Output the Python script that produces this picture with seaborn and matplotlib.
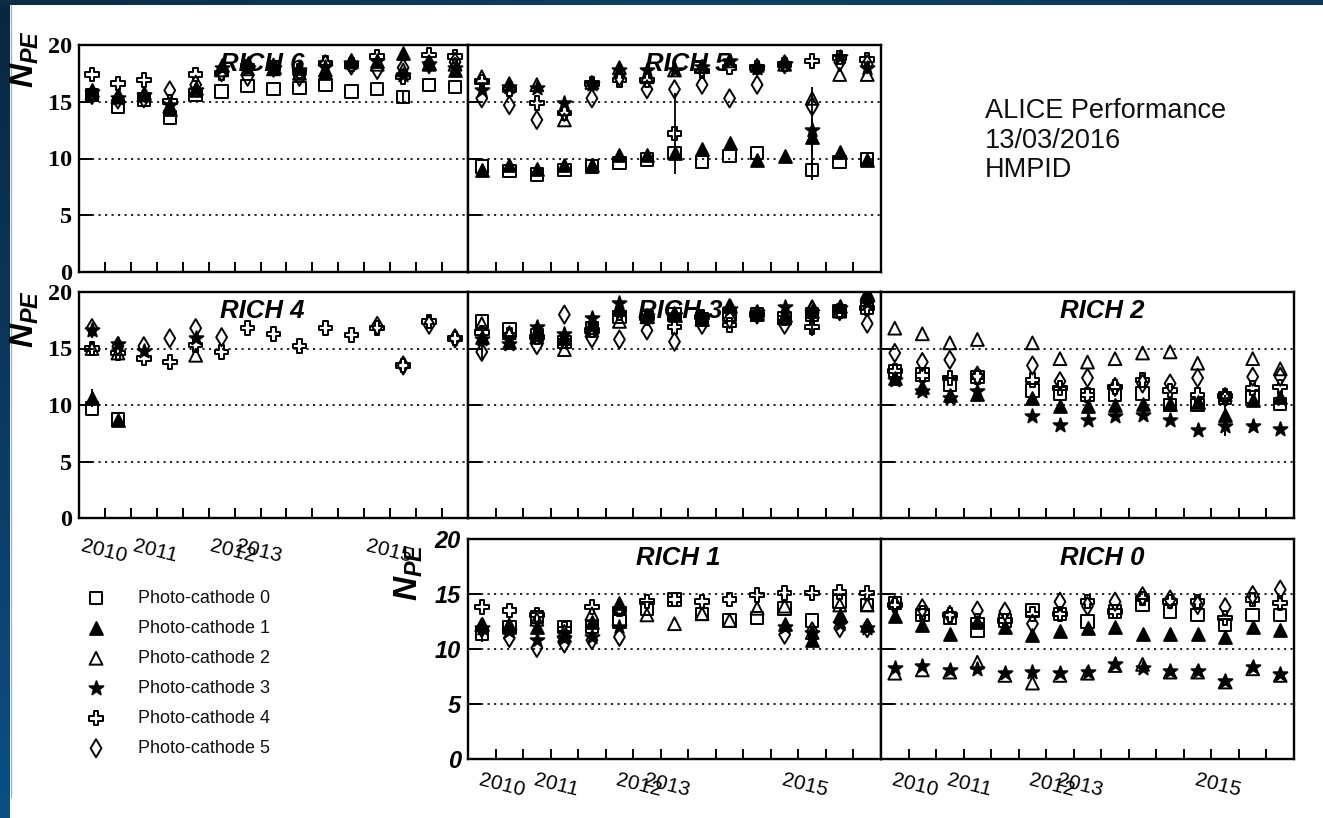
import numpy as np
import matplotlib
matplotlib.use("Agg")
import matplotlib.pyplot as plt
import seaborn as sns

nan = np.nan

# ---------------- data ----------------
bins = np.arange(15)
year_labels = ["2010", "2011", "2012", "2013", "2015"]
year_bins = [0, 2, 5, 6, 11]
series_names = [f"Photo-cathode {i}" for i in range(6)]

rich6 = [
    [15.6, 14.6, 15.2, 13.6, 15.6, 15.9, 16.4, 16.1, 16.2, 16.5, 15.9, 16.1, 15.4, 16.5, 16.3],
    [16.0, 15.6, 15.8, 14.4, 16.2, 18.2, 18.4, 18.1, 18.0, 17.5, 18.7, 18.6, 19.3, 18.4, 17.8],
    [15.8, 15.4, 15.6, 14.6, 16.0, 17.8, 17.9, 17.9, 17.5, 17.8, 18.5, 18.3, 17.8, 18.3, 18.3],
    [15.9, 15.3, 15.6, 14.7, 16.0, 18.0, 18.0, 18.0, 17.8, 18.1, 18.4, 18.6, 17.4, 18.3, 18.0],
    [17.4, 16.6, 16.9, 15.0, 17.4, 17.5, 18.1, 18.0, 17.7, 18.4, 18.3, 19.0, 17.2, 19.1, 19.0],
    [15.6, 15.2, 15.3, 16.0, 16.5, 17.6, 17.2, 18.0, 17.2, 18.3, 18.2, 17.8, 18.0, 18.3, 18.5],
]
rich5 = [
    [9.3, 8.9, 8.6, 9.0, 9.3, 9.6, 9.9, 10.5, 9.7, 10.2, 10.5, nan, 9.0, 9.7, 9.9],
    [9.0, 9.4, 9.1, 9.4, 9.4, 10.3, 10.3, 10.5, 10.8, 11.4, 9.9, 10.2, 11.9, 10.6, 9.9],
    [17.2, 16.6, 16.5, 13.4, 16.7, 18.0, 17.2, 17.8, 18.1, 18.6, 18.2, 18.3, 15.3, 17.4, 17.4],
    [16.0, 16.3, 16.2, 14.9, 16.6, 17.8, 17.8, 17.8, 18.1, 18.6, 18.0, 18.3, 12.5, 18.9, 18.0],
    [16.8, 16.1, 14.9, 14.0, 16.6, 16.9, 16.9, 12.2, 17.7, 18.0, 18.0, 18.3, 18.6, 18.9, 18.7],
    [15.3, 14.7, 13.4, 14.1, 15.3, 17.2, 16.1, 16.1, 16.5, 15.3, 16.5, 18.3, 14.6, 18.5, 18.3],
]
rich4 = [
    [9.7, 8.7, nan, nan, nan, nan, nan, nan, nan, nan, nan, nan, nan, nan, nan],
    [10.6, 8.7, nan, nan, nan, nan, nan, nan, nan, nan, nan, nan, nan, nan, nan],
    [15.0, 14.6, nan, nan, 14.4, nan, nan, nan, nan, nan, nan, nan, nan, nan, nan],
    [16.6, 15.4, 14.8, nan, 15.9, nan, nan, nan, nan, nan, nan, nan, nan, nan, nan],
    [15.0, 14.6, 14.1, 13.8, 15.3, 14.7, 16.8, 16.3, 15.2, 16.8, 16.2, 16.8, 13.5, 17.4, 15.9],
    [16.8, 15.2, 15.2, 15.9, 16.8, 16.0, nan, nan, nan, nan, nan, 17.0, 13.5, 17.1, 15.9],
]
rich3 = [
    [17.4, 16.7, 16.2, 15.6, 16.8, 17.8, 17.8, 18.0, 17.6, 18.0, 18.0, 17.7, 18.0, 18.3, 18.6],
    [16.0, 15.6, 16.5, 15.9, 17.2, 18.6, 17.9, 18.0, 17.6, 18.8, 18.1, 18.0, 18.3, 18.8, 19.9],
    [17.2, 16.4, 16.0, 14.9, 16.6, 17.4, 17.8, 18.1, 17.6, 18.8, 18.0, 17.7, 18.7, 18.3, 19.9],
    [15.8, 15.4, 16.9, 16.3, 17.7, 19.0, 17.9, 18.0, 17.8, 18.5, 18.2, 18.7, 18.2, 18.6, 19.0],
    [16.4, 16.2, 16.0, 15.6, 16.6, 18.1, 17.7, 16.9, 17.8, 17.1, 18.0, 17.7, 16.9, 18.3, 18.6],
    [14.7, 16.0, 15.3, 18.0, 15.9, 15.8, 16.6, 15.6, 17.1, 17.6, 18.0, 17.1, 18.4, 18.3, 17.2],
]
rich2 = [
    [13.0, 12.7, 11.8, 12.5, nan, 11.3, 11.0, 10.9, 10.9, 11.0, 10.0, 10.0, 10.6, 10.7, 10.1],
    [12.4, 11.6, 10.9, 11.0, nan, 10.6, 9.9, 9.9, 10.0, 10.1, 10.1, 10.3, 9.1, 10.4, 10.7],
    [16.8, 16.3, 15.5, 15.8, nan, 15.5, 14.1, 13.8, 14.1, 14.6, 14.7, 13.7, 10.9, 14.1, 13.2],
    [12.2, 11.2, 10.6, 11.2, nan, 9.0, 8.2, 8.7, 9.0, 9.1, 8.7, 7.8, 8.1, 8.1, 7.9],
    [13.0, 12.6, 12.4, 12.5, nan, 12.2, 11.5, 10.9, 11.6, 12.2, 11.3, 10.9, 10.8, 11.5, 11.6],
    [14.6, 13.8, 14.0, 12.6, nan, 13.5, 12.1, 12.4, 11.6, 11.9, 11.9, 12.4, 10.7, 12.5, 12.5],
]
rich1 = [
    [11.4, 12.0, 12.9, 12.0, 12.0, 12.5, 13.7, 14.5, 13.2, 12.6, 12.8, 13.7, 12.6, 14.3, 14.0],
    [12.3, 12.0, 12.0, 11.3, 12.5, 14.2, nan, nan, nan, nan, nan, 12.3, 10.8, 13.1, 12.2],
    [12.2, 12.2, 12.7, 11.6, 13.2, 13.8, 13.1, 12.3, 13.2, 12.6, 13.7, 13.9, 11.5, 14.0, 14.0],
    [11.9, 11.6, 10.8, 11.0, 11.1, 12.0, nan, nan, nan, nan, nan, 12.0, 11.5, 12.3, 11.9],
    [13.8, 13.5, 13.1, 11.8, 13.8, 13.6, 14.3, 14.5, 14.3, 14.5, 14.9, 15.1, 15.1, 15.2, 15.1],
    [11.9, 11.0, 10.1, 10.5, 10.8, 11.1, nan, nan, nan, nan, nan, 11.3, 11.6, 11.9, 11.9],
]
rich0 = [
    [14.2, 13.1, 12.8, 11.7, 12.6, 13.5, 13.2, 12.5, 13.4, 14.0, 13.4, 13.1, 12.2, 13.1, 13.1],
    [13.0, 12.2, 11.4, 12.5, 12.0, 11.3, 11.6, 11.9, 12.0, 11.4, 11.4, 11.4, 11.1, 12.0, 11.7],
    [7.8, 8.1, 7.9, 8.8, 7.6, 6.9, 7.6, 7.8, 8.5, 8.6, 7.9, 7.9, 7.0, 8.2, 7.6],
    [8.3, 8.5, 8.1, 8.2, 7.8, 7.9, 7.8, 7.9, 8.6, 8.3, 8.0, 8.0, 7.1, 8.4, 7.7],
    [14.0, 13.3, 13.1, 12.6, 12.6, 13.2, 13.2, 14.3, 13.4, 14.6, 14.3, 14.3, 12.8, 14.5, 14.2],
    [14.0, 13.7, 13.1, 13.5, 13.4, 12.3, 14.3, 13.9, 14.3, 14.8, 14.5, 14.0, 13.8, 14.9, 15.4],
]
# (panel, photo-cathode, bin, error)
errors = [
    ("RICH 6", 0, 12, 0.5), ("RICH 5", 4, 7, 3.6), ("RICH 5", 0, 12, 0.9),
    ("RICH 5", 1, 12, 1.6), ("RICH 5", 3, 12, 3.8), ("RICH 4", 1, 0, 0.8),
    ("RICH 3", 5, 0, 0.7), ("RICH 3", 4, 12, 0.8), ("RICH 2", 1, 12, 1.8),
    ("RICH 2", 3, 12, 0.8), ("RICH 1", 0, 0, 0.8), ("RICH 0", 1, 0, 0.6),
]

# ---------------- style ----------------
sns.set_theme(style="white")
plt.rcParams["font.family"] = ["Liberation Sans", "DejaVu Sans"]
plt.rcParams["text.color"] = "black"
plt.rcParams["xtick.color"] = "black"
plt.rcParams["ytick.color"] = "black"
plt.rcParams["xtick.labelcolor"] = "black"
plt.rcParams["ytick.labelcolor"] = "black"
plt.rcParams["legend.labelcolor"] = "black"
plt.rcParams["mathtext.fontset"] = "custom"
plt.rcParams["mathtext.it"] = "Liberation Sans:italic:bold"
plt.rcParams["mathtext.rm"] = "Liberation Sans:bold"
plt.rcParams["mathtext.bf"] = "Liberation Sans:bold"

W, H = 1323, 818
fig = plt.figure(figsize=(W / 100, H / 100), dpi=100)
fig.patch.set_facecolor("white")

# slide background strips
bg = fig.add_axes([0, 0, 10 / W, 1])
bg.imshow(np.linspace(0, 1, 100).reshape(-1, 1), aspect="auto",
          cmap=matplotlib.colors.LinearSegmentedColormap.from_list("b", ["#0b2740", "#0a3a60", "#0c4f84"]),
          origin="upper")
bg.axis("off")
top = fig.add_axes([0, 1 - 5 / H, 1, 5 / H])
top.imshow(np.linspace(0, 1, 100).reshape(1, -1), aspect="auto",
           cmap=matplotlib.colors.LinearSegmentedColormap.from_list("t", ["#0b2c45", "#0d4163", "#0b3a58"]))
top.axis("off")
fig.add_artist(matplotlib.lines.Line2D([10.5 / W, 10.5 / W], [1 - 797 / H, 1 - 5 / H], color="#a8b0b8", lw=1))


def px_rect(l, t, r, b):
    return [l / W, 1 - b / H, (r - l) / W, (b - t) / H]


panels = [
    # name, data, rect, left labels style, years?, title x, year offset, year pad
    ("RICH 6", rich6, px_rect(79, 45, 468, 272), "serif", False, 0.47, 0, 0),
    ("RICH 5", rich5, px_rect(468, 45, 881, 272), None, False, 0.53, 0, 0),
    ("RICH 4", rich4, px_rect(79, 292, 468, 518), "serif", True, 0.47, 0.45, 24),
    ("RICH 3", rich3, px_rect(468, 292, 881, 518), None, False, 0.515, 0, 0),
    ("RICH 2", rich2, px_rect(881, 292, 1294, 518), None, False, 0.535, 0, 0),
    ("RICH 1", rich1, px_rect(468, 539, 881, 759), "sans", True, 0.51, 0.72, 19),
    ("RICH 0", rich0, px_rect(881, 539, 1294, 759), None, True, 0.535, 0.72, 19),
]

markers = ["s", "^", "^", "*", "P", "d"]
faces = ["none", "black", "none", "black", "none", "none"]
sizes = [80, 85, 85, 110, 95, 85]

legend_handles = []
for name, data, rect, lab, years, tx, yoff, ypad in panels:
    ax = fig.add_axes(rect)
    ax.set_facecolor("white")
    for v in (5, 10, 15):
        ax.axhline(v, color="black", lw=1.2, ls=(0, (1.3, 2.6)), zorder=0.4)
    ax.text(tx, 0.915, name, transform=ax.transAxes, ha="center", va="center",
            fontsize=18.5, fontweight="bold", fontstyle="italic", zorder=0.5, color="black")
    for (pn, s, b, e) in errors:
        if pn == name:
            ax.vlines(bins[b], data[s][b] - e, data[s][b] + e, color="black", lw=1.3, zorder=2)
    for i in range(6):
        sns.scatterplot(x=bins, y=np.array(data[i], dtype=float), marker=markers[i], s=sizes[i],
                        color=faces[i], edgecolor="black", linewidth=1.4, ax=ax,
                        zorder=3, legend=False, label=series_names[i])
    if name == "RICH 6":
        legend_handles = list(ax.collections[-6:])
    ax.set_xlim(-0.5, 14.5)
    ax.set_ylim(0, 20)
    ax.set_xlabel("")
    ax.set_ylabel("")
    for sp in ax.spines.values():
        sp.set_linewidth(1.7)
        sp.set_color("black")
    ax.set_xticks(np.arange(0.5, 14, 1), minor=True)
    ax.tick_params(axis="x", which="minor", direction="in", length=7, width=1.4,
                   bottom=True, top=False, color="black")
    if years:
        ax.set_xticks(np.array(year_bins) + yoff)
        ax.set_xticklabels(year_labels, rotation=-14, rotation_mode="anchor",
                           ha="center", va="center", fontsize=15, color="black")
        ax.tick_params(axis="x", which="major", length=0, pad=ypad)
    else:
        ax.set_xticks([])
    ax.set_yticks([0, 5, 10, 15, 20])
    ax.tick_params(axis="y", which="major", direction="in", length=9, width=1.4,
                   left=True, right=False, color="black", pad=5)
    if lab is None:
        ax.tick_params(axis="y", labelleft=False)
    elif lab == "serif":
        for t in ax.get_yticklabels():
            t.set_fontfamily("Liberation Serif")
            t.set_fontweight("bold")
            t.set_fontsize(17.5)
    else:
        for t in ax.get_yticklabels():
            t.set_fontfamily("Liberation Sans")
            t.set_fontweight("bold")
            t.set_fontstyle("italic")
            t.set_fontsize(17)
    ax.grid(False)

# N_PE axis titles
for xb, ye in [(34, 30), (34, 290), (418, 543)]:
    fig.text(xb / W, 1 - ye / H, r"$N_{PE}$", rotation=90, rotation_mode="anchor",
             ha="right", va="baseline", fontsize=24, color="black")

# ALICE label
for txt, yb in [("ALICE Performance", 118), ("13/03/2016", 148), ("HMPID", 177)]:
    fig.text(985 / W, 1 - yb / H, txt, fontsize=19.5, va="baseline", ha="left", color="#111111")

# legend
fig.legend(handles=legend_handles, labels=series_names, loc="upper left",
           bbox_to_anchor=(87 / W, 1 - 590 / H), frameon=False, fontsize=13,
           handlelength=1.0, handletextpad=1.85, labelspacing=0.72,
           borderpad=0, borderaxespad=0, scatterpoints=1, markerscale=1.0,
           labelcolor="#111111")

fig.savefig("out.png", dpi=100, facecolor="white")
